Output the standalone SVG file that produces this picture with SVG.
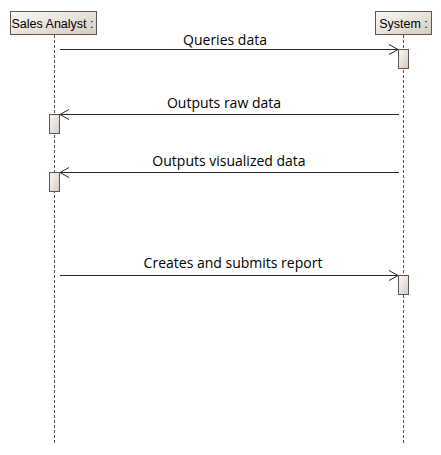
<svg xmlns="http://www.w3.org/2000/svg" width="441" height="455" viewBox="0 0 441 455">
<style>
.lifeline{stroke:#5e4e42;stroke-width:1;stroke-dasharray:3,2;fill:none}
.box{stroke:#5e5650;stroke-width:1;fill:url(#g)}
.act{stroke:#5e5650;stroke-width:1;fill:url(#g)}
.msg{stroke:#2e2620;stroke-width:1;fill:none}
.head{stroke:#2e2620;stroke-width:1;fill:none}
.lbl{font-family:"Open Sans","Noto Sans",sans-serif;font-size:14px;fill:#000;text-anchor:middle}
.name{font-family:"Liberation Sans",Arial,sans-serif;font-size:12.5px;fill:#000;text-anchor:middle}
</style>
<defs>
<linearGradient id="g" x1="0" y1="0" x2="1" y2="1">
<stop offset="0" stop-color="#faf8f5"/>
<stop offset="1" stop-color="#d6ccc0"/>
</linearGradient>
</defs>
<rect width="441" height="455" fill="#fff"/>
<g id="sales-analyst">
<line class="lifeline" x1="54.5" y1="35" x2="54.5" y2="445"/>
<rect class="box" x="10.5" y="11.5" width="86" height="23"/>
<text class="name" x="52.5" y="27.5">Sales Analyst :</text>
<rect class="act" x="49.5" y="114.5" width="10" height="19"/>
<rect class="act" x="49.5" y="172.5" width="10" height="19"/>
</g>
<g id="system">
<line class="lifeline" x1="403.5" y1="35" x2="403.5" y2="445"/>
<rect class="box" x="375.5" y="11.5" width="56" height="23"/>
<text class="name" x="403.5" y="27.5">System :</text>
<rect class="act" x="398.5" y="49.5" width="10" height="19"/>
<rect class="act" x="398.5" y="275.5" width="10" height="19"/>
</g>
<g id="connectors">
<line class="msg" x1="60" y1="49.5" x2="398" y2="49.5"/>
<polyline class="head" points="389,44.5 398,49.5 389,54.5"/>
<text class="lbl" x="225" y="45">Queries data</text>
<line class="msg" x1="399" y1="114.5" x2="60" y2="114.5"/>
<polyline class="head" points="69,109.5 60,114.5 69,119.5"/>
<text class="lbl" x="224" y="108">Outputs raw data</text>
<line class="msg" x1="399" y1="172.5" x2="60" y2="172.5"/>
<polyline class="head" points="69,167.5 60,172.5 69,177.5"/>
<text class="lbl" x="229" y="166">Outputs visualized data</text>
<line class="msg" x1="60" y1="275.5" x2="398" y2="275.5"/>
<polyline class="head" points="389,270.5 398,275.5 389,280.5"/>
<text class="lbl" x="233" y="268">Creates and submits report</text>
</g>
</svg>
